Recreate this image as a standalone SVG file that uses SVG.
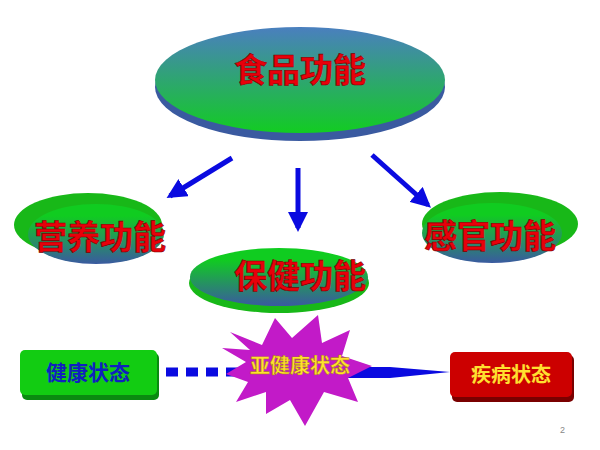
<svg xmlns="http://www.w3.org/2000/svg" width="600" height="450" viewBox="0 0 600 450">
<style>
.t{font-family:"Liberation Sans","Noto Sans CJK SC",sans-serif;font-weight:bold;text-anchor:middle}
.big{font-size:33px;fill:#e8000a;stroke:#7a0000;stroke-width:0.6}
</style>
<defs>
<linearGradient id="bg" x1="0" y1="0" x2="0" y2="1"><stop offset="0" stop-color="#4a7fbf"/><stop offset="1" stop-color="#12cc22"/></linearGradient>
<linearGradient id="gb" x1="0" y1="0" x2="0" y2="1"><stop offset="0.2" stop-color="#10cc20"/><stop offset="1" stop-color="#3a5aa0"/></linearGradient>
<marker id="ah" viewBox="0 0 10 10" refX="8" refY="5" markerWidth="4" markerHeight="4" orient="auto"><path d="M0,0L10,5L0,10z" fill="#0a0ae0"/></marker>
</defs>
<g id="food">
<ellipse cx="300" cy="87" rx="145" ry="54" fill="#3a5aa0"/>
<ellipse cx="300" cy="80" rx="145" ry="53" fill="url(#bg)"/>
<text class="t big" x="300" y="82" font-size="32">食品功能</text>
</g>
<g id="connectors" stroke="#0a0ae0" stroke-width="5" fill="none">
<line x1="232" y1="158" x2="170" y2="196" marker-end="url(#ah)"/>
<line x1="298" y1="168" x2="298" y2="228" marker-end="url(#ah)"/>
<line x1="372" y1="155" x2="428" y2="205" marker-end="url(#ah)"/>
<line x1="166" y1="372" x2="240" y2="372" stroke-dasharray="12,8" stroke-width="9"/>
<polygon points="240,367 390,367 450,372 390,378 240,378" fill="#0a0ae0" stroke="none"/>
</g>
<g id="nutrition">
<ellipse cx="88" cy="225" rx="74" ry="32" fill="#18b818"/>
<ellipse cx="96" cy="234" rx="68" ry="30" fill="url(#gb)"/>
<text class="t big" x="100" y="249">营养功能</text>
</g>
<g id="health">
<ellipse cx="279" cy="283" rx="90" ry="30" fill="#18b818"/>
<ellipse cx="279" cy="277" rx="89" ry="29" fill="url(#gb)"/>
<text class="t big" x="300" y="288">保健功能</text>
</g>
<g id="sensory">
<ellipse cx="500" cy="224" rx="78" ry="32" fill="#18b818"/>
<ellipse cx="492" cy="233" rx="70" ry="30" fill="url(#gb)"/>
<text class="t big" x="490" y="248">感官功能</text>
</g>
<g id="healthy">
<rect x="22" y="353" width="137" height="47" rx="5" fill="#0a8a10"/>
<rect x="20" y="350" width="137" height="45" rx="5" fill="#12cc12"/>
<text class="t" x="88" y="380" font-size="21" fill="#1020c0">健康状态</text>
</g>
<g id="subhealth">
<polygon points="230,332 262,345 275,318 292,338 318,315 322,343 350,330 342,356 372,366 348,378 358,402 324,392 305,426 290,400 266,414 266,392 236,402 248,382 226,374 246,362 222,348 250,350" fill="#c21ac8"/>
<text class="t" x="300" y="373" font-size="20" font-weight="normal" fill="#ffe030" stroke="#a08000" stroke-width="0.4">亚健康状态</text>
</g>
<g id="disease">
<rect x="452" y="355" width="122" height="47" rx="5" fill="#7a0000"/>
<rect x="450" y="352" width="122" height="45" rx="5" fill="#cc0000"/>
<text class="t" x="511" y="382" font-size="20" fill="#ffe030">疾病状态</text>
</g>
<text x="560" y="433" font-family="Liberation Sans,sans-serif" font-size="9" fill="#888">2</text>
</svg>
